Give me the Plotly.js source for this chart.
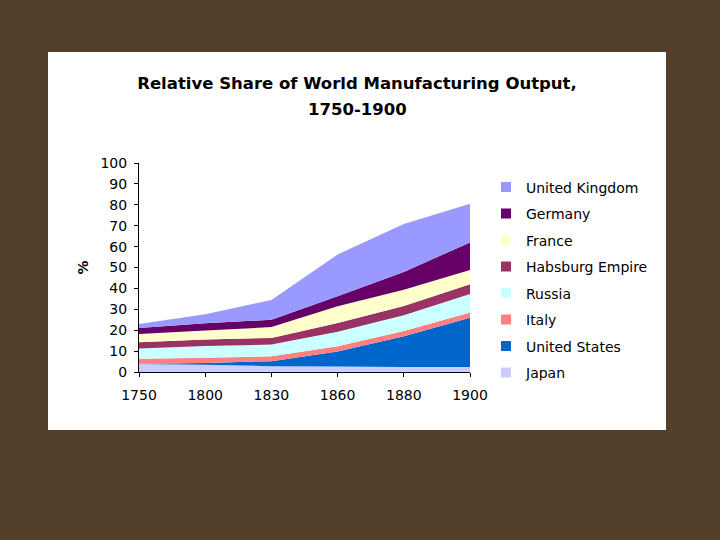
<!DOCTYPE html>
<html>
<head>
<meta charset="utf-8">
<script src="https://cdn.plot.ly/plotly-3.0.1.min.js"></script>
<style>html,body{margin:0;padding:0;background:#54402A;}#chart{width:720px;height:540px;}</style>
</head>
<body>
<div id="chart"></div>
<script>
const years = ['1750', '1800', '1830', '1860', '1880', '1900'];
const japan = [3.8, 3.5, 2.8, 2.6, 2.4, 2.4];
const unitedStates = [0.1, 0.8, 2.4, 7.2, 14.7, 23.6];
const italy = [2.4, 2.5, 2.3, 2.5, 2.5, 2.5];
const russia = [5.0, 5.6, 5.6, 7.0, 7.6, 8.8];
const habsburg = [2.9, 3.2, 3.2, 4.2, 4.4, 4.7];
const france = [4.0, 4.2, 5.2, 7.9, 7.8, 6.8];
const germany = [2.9, 3.5, 3.5, 4.9, 8.5, 13.2];
const unitedKingdom = [1.9, 4.3, 9.5, 19.9, 22.9, 18.5];
const yTicks = [0, 10, 20, 30, 40, 50, 60, 70, 80, 90, 100];
const titleLine1 = 'Relative Share of World Manufacturing Output,';
const titleLine2 = '1750-1900';

// bottom to top stacking order
const series = [
  {name: 'Japan', y: japan, color: '#CCCCFF'},
  {name: 'United States', y: unitedStates, color: '#0066CC'},
  {name: 'Italy', y: italy, color: '#FF8080'},
  {name: 'Russia', y: russia, color: '#CCFFFF'},
  {name: 'Habsburg Empire', y: habsburg, color: '#993366'},
  {name: 'France', y: france, color: '#FFFFCC'},
  {name: 'Germany', y: germany, color: '#660066'},
  {name: 'United Kingdom', y: unitedKingdom, color: '#9999FF'}
];

const traces = series.map(s => ({
  type: 'scatter', mode: 'none', x: years, y: s.y, name: s.name,
  stackgroup: 'one', fillcolor: s.color, line: {width: 0},
  showlegend: false, hoverinfo: 'x+y+name'
}));

// legend entries (top first), square swatches
series.slice().reverse().forEach((s, i) => {
  traces.push({
    type: 'scatter', mode: 'markers', x: [null], y: [null], name: s.name,
    marker: {symbol: 'square', size: 10, color: s.color},
    legendgroup: 'g' + i, showlegend: true, hoverinfo: 'skip'
  });
});

const L = 139, R = 470, T = 163, B = 372;
const W = R - L, H = B - T;
const px = v => (v - L) / W;
const py = v => (B - v) / H;
const titleFont = {family: 'DejaVu Sans', size: 16.5, weight: 'bold', color: '#000000'};

const layout = {
  width: 720, height: 540,
  paper_bgcolor: '#54402A', plot_bgcolor: '#FFFFFF',
  margin: {l: L, r: 720 - R, t: T, b: 540 - B, pad: 0},
  font: {family: 'DejaVu Sans', color: '#000000'},
  title: {
    text: titleLine1,
    font: titleFont,
    xref: 'container', x: 357 / 720, xanchor: 'center',
    yref: 'container', y: 1 - 83 / 540, yanchor: 'middle'
  },
  annotations: [{
    text: titleLine2, font: titleFont, showarrow: false,
    xref: 'paper', yref: 'paper', x: px(357), y: py(110),
    xanchor: 'center', yanchor: 'middle'
  }],
  xaxis: {
    type: 'category', range: [0, 5], showgrid: false, zeroline: false,
    showline: true, linecolor: '#000000', linewidth: 1,
    ticks: 'outside', ticklen: 4, tickcolor: '#000000', ticklabelstandoff: 6,
    tickfont: {family: 'DejaVu Sans', size: 14, color: '#000000'},
    fixedrange: true
  },
  yaxis: {
    range: [0, 100], tickvals: yTicks, ticktext: yTicks.map(String),
    showgrid: false, zeroline: false,
    showline: true, linecolor: '#000000', linewidth: 1,
    ticks: 'outside', ticklen: 4, tickcolor: '#000000', ticklabelstandoff: 4,
    tickfont: {family: 'DejaVu Sans', size: 14, color: '#000000'},
    title: {text: '%', font: {family: 'DejaVu Sans', size: 14, weight: 'bold', color: '#000000'}, standoff: 8},
    fixedrange: true
  },
  legend: {
    x: px(486), xanchor: 'left', y: py(171.5), yanchor: 'top',
    traceorder: 'grouped', tracegroupgap: 5.3,
    bgcolor: 'rgba(0,0,0,0)', borderwidth: 0,
    font: {family: 'DejaVu Sans', size: 14, color: '#000000'}
  },
  shapes: [{
    type: 'rect', xref: 'paper', yref: 'paper', layer: 'below',
    x0: px(48), x1: px(666), y0: py(430), y1: py(52),
    fillcolor: '#FFFFFF', line: {width: 0}
  }],
  showlegend: true
};

Plotly.newPlot('chart', traces, layout, {displayModeBar: false, staticPlot: true});
</script>
</body>
</html>
